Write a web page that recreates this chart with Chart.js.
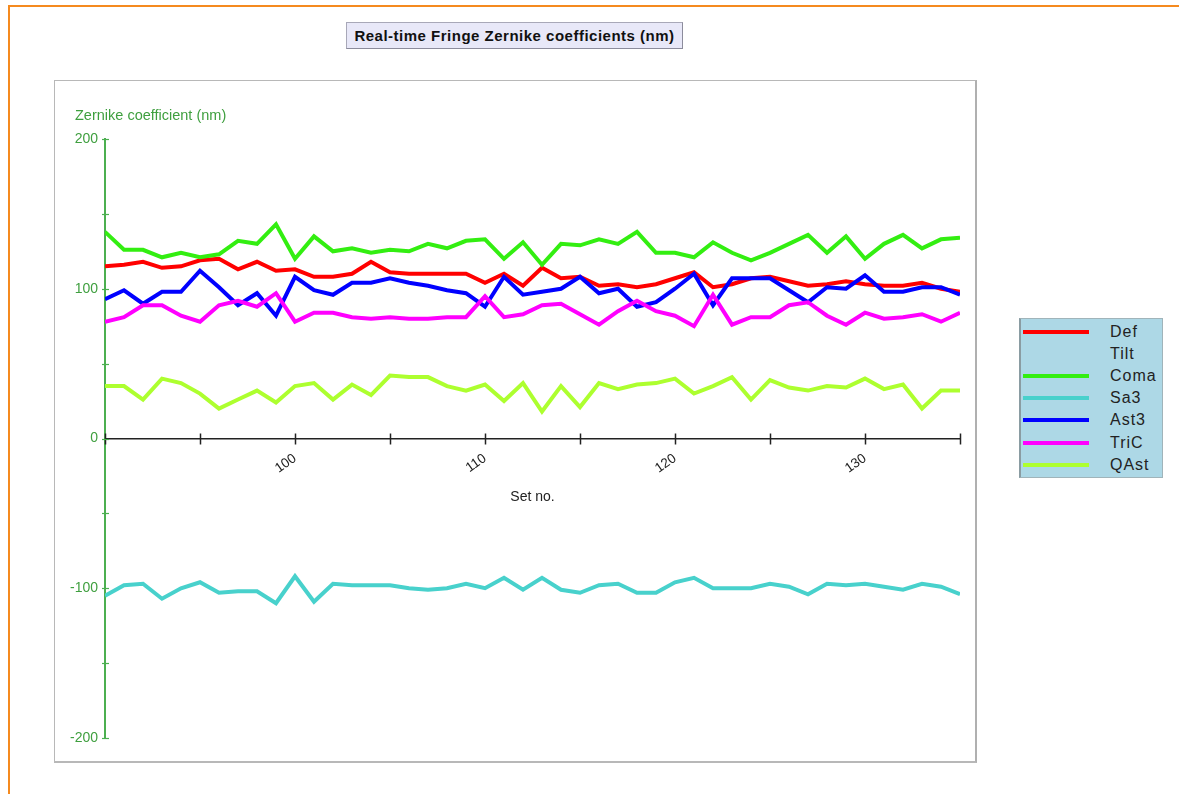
<!DOCTYPE html>
<html>
<head>
<meta charset="utf-8">
<script src="https://cdn.jsdelivr.net/npm/chart.js@4.4.1/dist/chart.umd.min.js"></script>
<style>
  html, body { margin: 0; padding: 0; background: #ffffff; }
  body { width: 1179px; height: 794px; position: relative; overflow: hidden; font-family: "Liberation Sans", Arial, sans-serif; }
  #page-edge { position: absolute; left: 8px; top: 5px; width: 1200px; height: 800px; border-left: 2px solid #f58a1f; border-top: 2px solid #f58a1f; }
  #title { position: absolute; left: 346px; top: 22px; width: 335px; height: 25px; background: #e8e8f8; border: 1px solid #a8a8b8; border-right-color: #8c8c9c; border-bottom-color: #8c8c9c; font-weight: bold; font-size: 15px; letter-spacing: 0.5px; line-height: 25px; text-align: center; color: #111; }
  #frame { position: absolute; left: 54px; top: 80px; width: 920px; height: 680px; border: 1px solid #b8b8b8; border-right: 2px solid #b0b0b0; border-bottom: 2px solid #b8b8b8; }
  #chart { position: absolute; left: 0; top: 0; }
  #ytitle { position: absolute; left: 20px; top: 26px; font-size: 14.5px; color: #3f9f3f; white-space: nowrap; }
  #legend { position: absolute; left: 1019px; top: 318px; width: 141px; height: 158px; background: #add8e6; border: 1px solid #a0b4ba; border-left: 2px solid #8a9ca2; }
  .row { position: absolute; left: 0; height: 22px; width: 141px; }
  .swatch { position: absolute; left: 2px; top: 9px; width: 66px; height: 4px; }
  .lbl { position: absolute; left: 89px; top: 2px; font-size: 16px; letter-spacing: 1px; color: #222; line-height: 18px; }
</style>
</head>
<body>
<div id="page-edge"></div>
<div id="title">Real-time Fringe Zernike coefficients (nm)</div>
<div id="frame">
  <canvas id="chart" width="920" height="680"></canvas>
  <div id="ytitle">Zernike coefficient (nm)</div>
</div>
<div id="legend"></div>
<script>
// Set numbers along the horizontal axis
const setNo = [90, 91, 92, 93, 94, 95, 96, 97, 98, 99, 100, 101, 102, 103, 104, 105,
  106, 107, 108, 109, 110, 111, 112, 113, 114, 115, 116, 117, 118, 119, 120, 121,
  122, 123, 124, 125, 126, 127, 128, 129, 130, 131, 132, 133, 134, 135];

// Fringe Zernike coefficients per set (nm)
const def = [115, 116, 118, 114, 115, 119, 120, 113, 118, 112, 113, 108, 108, 110, 118, 111,
  110, 110, 110, 110, 104, 110, 102, 114, 107, 108, 102, 103, 101, 103, 107, 111,
  101, 103, 107, 108, 105, 102, 103, 105, 103, 102, 102, 104, 100, 98];
const tilt = [];
const coma = [138, 126, 126, 121, 124, 121, 123, 132, 130, 143, 120, 135, 125, 127, 124, 126,
  125, 130, 127, 132, 133, 120, 131, 116, 130, 129, 133, 130, 138, 124, 124, 121,
  131, 124, 119, 124, 130, 136, 124, 135, 120, 130, 136, 127, 133, 134];
const sa3 = [-105, -98, -97, -107, -100, -96, -103, -102, -102, -110, -92, -109, -97, -98, -98, -98,
  -100, -101, -100, -97, -100, -93, -101, -93, -101, -103, -98, -97, -103, -103, -96, -93,
  -100, -100, -100, -97, -99, -104, -97, -98, -97, -99, -101, -97, -99, -104];
const ast3 = [93, 99, 90, 98, 98, 112, 101, 89, 97, 82, 108, 99, 96, 104, 104, 107,
  104, 102, 99, 97, 88, 108, 96, 98, 100, 108, 97, 100, 88, 91, 100, 110,
  89, 107, 107, 107, 99, 91, 101, 100, 109, 98, 98, 101, 101, 96];
const triC = [78, 81, 89, 89, 82, 78, 89, 92, 88, 97, 78, 84, 84, 81, 80, 81,
  80, 80, 81, 81, 95, 81, 83, 89, 90, 83, 76, 85, 92, 85, 82, 75,
  96, 76, 81, 81, 89, 91, 82, 76, 84, 80, 81, 83, 78, 84];
const qAst = [35, 35, 26, 40, 37, 30, 20, 26, 32, 24, 35, 37, 26, 36, 29, 42,
  41, 41, 35, 32, 36, 25, 37, 18, 35, 21, 37, 33, 36, 37, 40, 30,
  35, 41, 26, 39, 34, 32, 35, 34, 40, 33, 36, 20, 32, 32];

// Tick labels
const xTickLabels = [100, 110, 120, 130];
const yTickLabels = [-200, -100, 0, 100, 200];

const seriesNames = ['Def', 'Tilt', 'Coma', 'Sa3', 'Ast3', 'TriC', 'QAst'];
const seriesValues = [def, tilt, coma, sa3, ast3, triC, qAst];
const seriesColors = ['#ff0000', 'rgba(0,0,0,0)', '#33ee11', '#48d1cc', '#0000ff', '#ff00ff', '#adff2f'];

const axisGreen = '#4caf50';
const labelGreen = '#3f9f3f';

const datasets = seriesNames.map((name, i) => ({
  label: name,
  data: seriesValues[i].map((v, k) => ({ x: setNo[k], y: v })),
  borderColor: seriesColors[i],
  backgroundColor: seriesColors[i],
  borderWidth: 4,
  pointRadius: 0,
  tension: 0,
  fill: false,
  order: seriesNames.length - i
}));

// Short tick marks that cross each axis line
const crossTicks = {
  id: 'crossTicks',
  afterDraw(chart) {
    const { ctx, scales: { x, y } } = chart;
    const y0 = y.getPixelForValue(0);
    ctx.save();
    ctx.lineWidth = 1.5;
    ctx.strokeStyle = '#222';
    x.ticks.forEach(t => {
      const px = Math.round(x.getPixelForValue(t.value)) + 0.5;
      ctx.beginPath();
      ctx.moveTo(px, y0 - 5);
      ctx.lineTo(px, y0 + 6);
      ctx.stroke();
    });
    ctx.strokeStyle = axisGreen;
    ctx.lineWidth = 1.2;
    const x0 = x.left;
    y.ticks.forEach(t => {
      const py = Math.round(y.getPixelForValue(t.value)) + 0.5;
      ctx.beginPath();
      ctx.moveTo(x0 - 3, py);
      ctx.lineTo(x0 + 4, py);
      ctx.stroke();
    });
    ctx.restore();
  }
};

const chart = new Chart(document.getElementById('chart'), {
  type: 'line',
  data: { datasets },
  options: {
    responsive: false,
    devicePixelRatio: 1,
    animation: false,
    events: [],
    layout: { padding: { top: 58, right: 15, bottom: 23, left: 0 } },
    plugins: { legend: { display: false }, tooltip: { enabled: false }, title: { display: false } },
    scales: {
      x: {
        type: 'linear',
        position: { y: 0 },
        min: 90,
        max: 135,
        border: { display: true, color: '#222', width: 1.5 },
        grid: { display: true, drawOnChartArea: false, color: 'rgba(0,0,0,0)', tickLength: 6 },
        ticks: {
          stepSize: 5,
          autoSkip: false,
          minRotation: 35,
          maxRotation: 35,
          padding: 6,
          color: '#222',
          font: { family: '"Liberation Sans", Arial, sans-serif', size: 13.5 },
          callback: v => (xTickLabels.includes(v) ? String(v) : '')
        },
        title: {
          display: true,
          text: 'Set no.',
          color: '#222',
          font: { family: '"Liberation Sans", Arial, sans-serif', size: 14 },
          padding: { top: 6, bottom: 0 }
        },
        afterFit(scale) { scale.paddingLeft = 0; scale.paddingRight = 0; }
      },
      y: {
        type: 'linear',
        position: 'left',
        min: -200,
        max: 200,
        border: { display: true, color: axisGreen, width: 2 },
        grid: { display: true, drawOnChartArea: false, color: 'rgba(0,0,0,0)', tickLength: 3 },
        ticks: {
          stepSize: 50,
          padding: 4,
          color: labelGreen,
          font: { family: '"Liberation Sans", Arial, sans-serif', size: 14 },
          callback: v => (yTickLabels.includes(v) ? String(v) : '')
        },
        afterFit(scale) { scale.width = 50; scale.paddingTop = 0; scale.paddingBottom = 0; }
      }
    }
  },
  plugins: [crossTicks]
});

// Legend box built from the chart's datasets
const legend = document.getElementById('legend');
chart.data.datasets.forEach((ds, i) => {
  const row = document.createElement('div');
  row.className = 'row';
  row.style.top = (2 + i * 22.1) + 'px';
  const sw = document.createElement('div');
  sw.className = 'swatch';
  sw.style.background = ds.borderColor;
  const lbl = document.createElement('div');
  lbl.className = 'lbl';
  lbl.textContent = ds.label;
  row.appendChild(sw);
  row.appendChild(lbl);
  legend.appendChild(row);
});
</script>
</body>
</html>
